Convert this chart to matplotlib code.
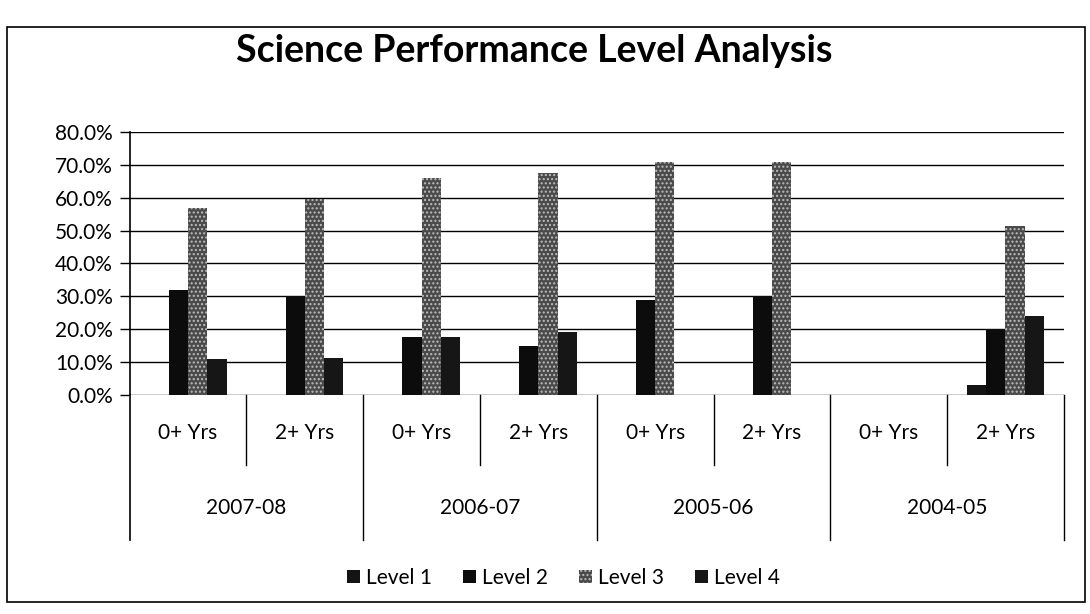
import numpy as np
import matplotlib
matplotlib.use("Agg")
import matplotlib.pyplot as plt
from matplotlib.patches import Rectangle, Patch
from matplotlib.ticker import PercentFormatter

plt.rcParams['font.family'] = ['Lato', 'DejaVu Sans']

years = ["2007-08", "2006-07", "2005-06", "2004-05"]
sub_labels = ["0+ Yrs", "2+ Yrs"] * 4
level_names = ["Level 1", "Level 2", "Level 3", "Level 4"]

# values in percent, one per sub category (0+ / 2+ for each year)
level1 = [0, 0, 0, 0, 0, 0, 0, 3]
level2 = [32, 30, 17.5, 15, 29, 30, 0, 20]
level3 = [57, 59.5, 66, 67.5, 71, 71, 0, 51.5]
level4 = [10.8, 11.2, 17.6, 19, 0, 0, 0, 24]

fig = plt.figure(figsize=(10.9, 6.14), dpi=100)
ax = fig.add_axes([0.119, 0.357, 0.857, 0.428])

x = np.arange(len(sub_labels))
w = 0.165
series = [level1, level2, level3, level4]
colors = ["#141414", "#0c0c0c", "#4a4a4a", "#161616"]
hatches = [None, None, "....", None]
for i, (vals, col, h) in enumerate(zip(series, colors, hatches)):
    bars = ax.bar(x + (i - 1.5) * w, vals, w, color=col, zorder=3,
                  linewidth=0, label=level_names[i])
    if h:
        for b in bars:
            b.set_hatch(h)
            b.set_edgecolor("#bdbdbd")

ax.set_xlim(-0.5, 7.5)
ax.set_ylim(0, 80)
ax.set_yticks(np.arange(0, 81, 10))
ax.yaxis.set_major_formatter(PercentFormatter(decimals=1))
ax.tick_params(axis='y', labelsize=15, length=7, width=1, color='black', pad=5)
ax.set_xticks([])
ax.grid(axis='y', color='black', linewidth=1, zorder=0)
for s in ["top", "right", "bottom"]:
    ax.spines[s].set_visible(False)
ax.spines["left"].set_linewidth(1.2)

# multi-level category axis drawn below the plot
tr = ax.get_xaxis_transform()
ax.plot([-0.5, -0.5], [0, -0.551], color='black', lw=1.2, transform=tr, clip_on=False)
for k in range(4):
    mid = 2 * k + 0.5
    ax.plot([mid, mid], [0, -0.266], color='black', lw=1, transform=tr, clip_on=False)
    edge = 2 * k + 1.5
    ax.plot([edge, edge], [0, -0.551], color='black', lw=1, transform=tr, clip_on=False)
    ax.text(2 * k + 0.5, -0.43, years[k], transform=tr, ha='center', va='center',
            fontsize=15)
for i, lab in enumerate(sub_labels):
    ax.text(i, -0.144, lab, transform=tr, ha='center', va='center', fontsize=15)

fig.text(0.49, 0.917, "Science Performance Level Analysis", ha='center', va='center',
         fontsize=27, fontweight='bold')

handles = [Patch(facecolor=colors[i], edgecolor="#bdbdbd" if hatches[i] else colors[i],
                 hatch=hatches[i], linewidth=0) for i in range(4)]
fig.legend(handles, level_names, loc='center', bbox_to_anchor=(0.517, 0.059), ncol=4,
           frameon=False, fontsize=15, handlelength=0.6, handleheight=0.6,
           handletextpad=0.3, columnspacing=1.5)

fig.patches.append(Rectangle((7 / 1090, 1 - 602 / 614), 1078 / 1090, 575 / 614,
                             transform=fig.transFigure, fill=False,
                             edgecolor='black', linewidth=1.2))

fig.savefig("out.png", dpi=100)
